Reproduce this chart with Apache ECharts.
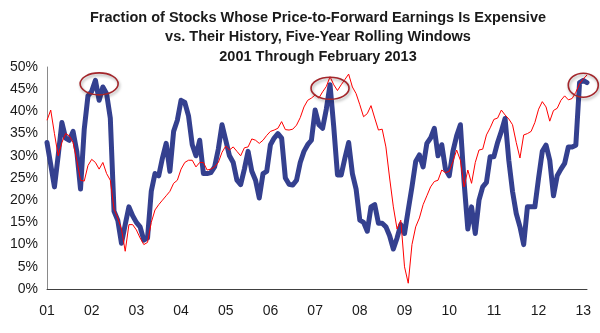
<!DOCTYPE html>
<html><head><meta charset="utf-8">
<script src="https://cdn.jsdelivr.net/npm/echarts@6/dist/echarts.min.js"></script>
<style>html,body{margin:0;padding:0;background:#fff}#c{width:600px;height:333px}</style>
</head><body><div id="c"></div>
<script>
const titleLines = [
  'Fraction of Stocks Whose Price-to-Forward Earnings Is Expensive',
  'vs. Their History, Five-Year Rolling Windows',
  '2001 Through February 2013'
];
const yearLabels = ['01','02','03','04','05','06','07','08','09','10','11','12','13'];
// monthly, Jan 2001 .. Feb 2013
const blueSeries = [
  33, 28, 23, 30, 37.5, 34, 33.5, 35.5, 31, 22.5, 36, 43.5,
  44.5, 47, 42.5, 45.5, 44, 38.5, 17.5, 15.5, 10.3, 14.5, 18.5, 16.5,
  15, 14, 11, 11.5, 22, 26, 25.5, 29.5, 32.8, 26.5, 35.5, 38,
  42.5, 42, 39, 32.5, 30, 33.5, 26, 26, 26.2, 27.5, 31.5, 37,
  33.5, 30, 28.5, 24.5, 23.5, 27, 31, 26.5, 24.5, 20.5, 26, 26.5,
  32.5, 34, 35, 34, 25, 23.6, 23.4, 24.5, 28.5, 31, 32.5, 33.5,
  40.3, 37, 36.2, 40.5, 46, 36.5, 25.7, 25.7, 29.5, 33, 26, 22.5,
  15.5, 15, 13, 18.5, 19, 14.8, 14.8, 14, 12, 9, 11.5, 14.5,
  12.5, 17.8, 23, 28.7, 30.2, 27.5, 32.8, 34, 36.2, 30, 32.5, 27,
  25.5, 31, 34.5, 37, 24, 13.5, 18.5, 12.5, 20, 23, 24, 29.8,
  29.8, 33, 35.5, 38.4, 29, 22, 17, 14, 10, 18.5, 18.5, 18.5,
  25, 31, 32.4, 29, 21, 25.5, 27, 28.3, 32, 32, 32.4, 46.5,
  47, 46.5
];
const redSeries = [
  38, 40.3, 35, 30, 33, 35, 34.5, 33, 29, 24.5, 24.3, 27.8,
  29.2, 28.5, 27, 28.5, 26, 24.5, 18, 16, 13.5, 8.5, 14.5, 14.5,
  13.3, 11.5, 10, 10.5, 15, 17.8, 19, 20, 21, 22, 23.8, 24.5,
  27, 28.5, 29, 29, 27.5, 28.5, 28.5, 26.8, 27, 27.5, 28.5, 30.8,
  32.2, 31.3, 32, 31, 30, 31.8, 32, 33.8, 33.5, 32.8, 33.5, 34.6,
  35.5, 35.8, 36.2, 37.7, 35.9, 35.8, 36, 36.9, 38.6, 41, 42.5, 43,
  43.7, 43, 44.4, 45.6, 47.8, 46, 44.7, 46, 47.2, 48.4, 45.5, 44,
  41.5, 38.8, 39.5, 41.3, 38.5, 35.8, 36, 32, 25, 18.5, 13.5, 15.5,
  5, 1.3, 10, 14, 16, 19, 21, 23, 24.2, 24.5, 26.8, 26.2,
  26.5, 28.7, 31.3, 29, 23, 26.8, 23.8, 28.5, 31.3, 31.5, 34.7, 36.3,
  38.2, 38.5, 40.3, 39.2, 38.3, 37, 33, 29.5, 34.7, 35, 35.5, 37.5,
  40.5, 42.2, 41, 37.8, 40.2, 40.7, 42.5, 43.5, 42.6, 42.9, 44.3, 46.2,
  47.3, 48.2
];
// highlighted peaks: [month index, value]
const peakMarks = [[13.8, 46.2], [76.3, 45.2], [143.9, 45.9]];

const categories = blueSeries.map((v, i) => yearLabels[Math.floor(i / 12)] + '-' + (i % 12 + 1));

const chart = echarts.init(document.getElementById('c'), null, {renderer: 'canvas'});
const font = 'Liberation Sans, Arial, sans-serif';
chart.setOption({
  backgroundColor: '#ffffff',
  animation: false,
  grid: {left: 47, right: 13, top: 67, bottom: 44, containLabel: false},
  xAxis: {
    type: 'category', data: categories, boundaryGap: false,
    axisLine: {lineStyle: {color: '#404040', width: 1}},
    axisTick: {show: false},
    axisLabel: {
      interval: (idx) => idx % 12 === 0,
      formatter: (val) => val.split('-')[0],
      color: '#1a1a1a', fontSize: 14, fontFamily: font, margin: 15
    },
    splitLine: {show: false}
  },
  yAxis: {
    type: 'value', min: 0, max: 50, interval: 5,
    axisLine: {show: true, lineStyle: {color: '#8a8a8a', width: 1}},
    axisTick: {show: false},
    axisLabel: {formatter: '{value}%', color: '#1a1a1a', fontSize: 14, fontFamily: font, margin: 9},
    splitLine: {show: false}
  },
  series: [
    {type: 'line', data: blueSeries, symbol: 'none', smooth: false,
     lineStyle: {color: '#34408f', width: 5, join: 'round', cap: 'round'}, z: 2},
    {type: 'line', data: redSeries, symbol: 'none', smooth: false,
     lineStyle: {color: '#ff0000', width: 1}, z: 3}
  ]
});

const ellipses = peakMarks.map((p, i) => {
  const c = chart.convertToPixel({gridIndex: 0}, [p[0], p[1]]);
  const rx = i === 2 ? 15 : 19;
  const ry = i === 2 ? 12 : 11;
  return {
    type: 'ellipse', shape: {cx: c[0], cy: c[1], rx: rx, ry: ry},
    style: {fill: 'none', stroke: '#a3262b', lineWidth: 1.6,
            shadowBlur: 3, shadowColor: 'rgba(0,0,0,0.35)', shadowOffsetX: 1, shadowOffsetY: 2},
    z: 100
  };
});
chart.setOption({graphic: titleLines.map((t, i) => ({
    type: 'text', x: 318, y: 10 + i * 19.5,
    style: {text: t, font: 'bold 14.5px ' + font, fill: '#1a1a1a', textAlign: 'center', textVerticalAlign: 'top'}
  })).concat(ellipses)});
</script>
</body></html>
